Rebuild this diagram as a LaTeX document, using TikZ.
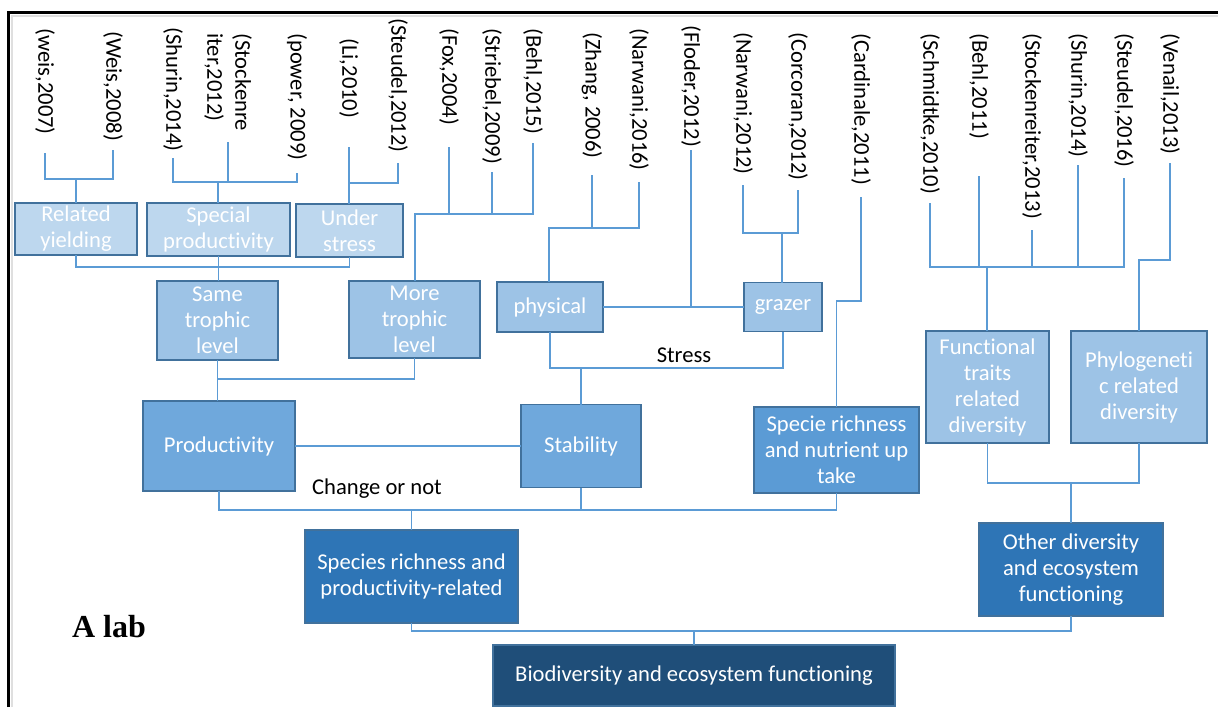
\documentclass[tikz,border=0pt]{standalone}
\usepackage{fontspec}
\setmainfont{Carlito}[RawFeature={-liga}]
\newfontfamily\labfont{Liberation Serif}
\definecolor{lvlA}{HTML}{BDD7EE}
\definecolor{lvlB}{HTML}{9DC3E6}
\definecolor{lvlC}{HTML}{6FA8DC}
\definecolor{lvlD}{HTML}{5B9BD5}
\definecolor{lvlE}{HTML}{2E75B6}
\definecolor{lvlF}{HTML}{1F4E79}
\definecolor{edge}{HTML}{41719C}
\definecolor{wire}{HTML}{5B9BD5}
\begin{document}
\begin{tikzpicture}[x=0.5pt,y=-0.5pt,
  every node/.style={font=\fontsize{11.3}{13}\selectfont},
  block/.style={draw=edge,line width=0.6pt,fill=#1,text=white,align=center,inner sep=0pt,outer sep=0pt},
  boxsize/.style 2 args={minimum width=#1*0.5pt,minimum height=#2*0.5pt},
  cite/.style={rotate=-90,anchor=west,inner sep=0pt,align=left,font=\fontsize{11.3}{14}\selectfont},
  link/.style={draw=wire,line width=0.75pt}]

\useasboundingbox (0,0) rectangle (1218,707);
% frame
\draw[gray!25,line width=1pt] (11.5,707) -- (11.5,15.5) -- (1218,15.5);
\draw[black,line width=1.5pt] (8,707) -- (8,12) -- (1218,12);

% references
\node[cite] (weis07) at (45,28) {(weis,2007)};
\node[cite] (weis08) at (113,31) {(Weis,2008)};
\node[cite] (shu14) at (173,27) {(Shurin,2014)};
\node[cite] (sto12) at (228,33) {(Stockenre\\iter,2012)};
\node[cite] (pow09) at (297,33) {(power, 2009)};
\node[cite] (li10) at (349,38) {(Li,2010)};
\node[cite] (ste12) at (398,18) {(Steudel,2012)};
\node[cite] (fox04) at (449,28) {(Fox,2004)};
\node[cite] (str09) at (492,28) {(Striebel,2009)};
\node[cite] (beh15) at (533,28) {(Behl,2015)};
\node[cite] (zha06) at (592,32) {(Zhang, 2006)};
\node[cite] (nar16) at (639,28) {(Narwani,2016)};
\node[cite] (flo12) at (691,25) {(Floder,2012)};
\node[cite] (nar12) at (743,32) {(Narwani,2012)};
\node[cite] (cor12) at (798,32) {(Corcoran,2012)};
\node[cite] (car11) at (861,33) {(Cardinale,2011)};
\node[cite] (sch10) at (930,33) {(Schmidtke,2010)};
\node[cite] (beh11) at (979,33) {(Behl,2011)};
\node[cite] (sto13) at (1032,33) {(Stockenreiter,2013)};
\node[cite] (shu14b) at (1078,33) {(Shurin,2014)};
\node[cite] (ste16) at (1124,33) {(Steudel,2016)};
\node[cite] (ven13) at (1170,33) {(Venail,2013)};

% boxes
\node[block=lvlA,boxsize={122}{52}] (rel) at (76,229) {Related\\yielding};
\node[block=lvlA,boxsize={143}{53}] (spe) at (218.5,229.5) {Special\\productivity};
\node[block=lvlA,boxsize={107}{53}] (und) at (349.5,230.5) {Under\\stress};
\node[block=lvlB,boxsize={121}{79}] (same) at (217.5,320.5) {Same\\trophic\\level};
\node[block=lvlB,boxsize={131}{77}] (more) at (414.5,319.5) {More\\trophic\\level};
\node[block=lvlB,boxsize={106}{50}] (phys) at (550,307) {physical};
\node[block=lvlB,boxsize={78}{49}] (graz) at (783,307) {grazer};
\node[block=lvlB,boxsize={123}{112}] (func) at (987.5,387) {Functional\\traits\\related\\diversity};
\node[block=lvlB,boxsize={136}{112}] (phyl) at (1139,387) {Phylogeneti\\c related\\diversity};
\node[block=lvlC,boxsize={152}{90}] (prod) at (219,446) {Productivity};
\node[block=lvlC,boxsize={120}{83}] (stab) at (581,446) {Stability};
\node[block=lvlD,boxsize={165}{86}] (spr) at (836.5,450) {Specie richness\\and nutrient up\\take};
\node[block=lvlE,boxsize={213}{93}] (srp) at (411.5,576.5) {Species richness and\\productivity-related};
\node[block=lvlE,boxsize={184}{93}] (oth) at (1071,569.5) {Other diversity\\and ecosystem\\functioning};
\node[block=lvlF,boxsize={402}{61}] (bio) at (694,675.5) {Biodiversity and ecosystem functioning};

\node (chg) at (377,489) {Change or not};
\node (stresslbl) at (684,355) {Stress};
\node[font=\labfont\bfseries\fontsize{16}{18}\selectfont] (lab) at (109,627) {A lab};

% references to first boxes
\coordinate (jrel) at (76,179);
\draw[link] (weis07 |- 0,153) |- (jrel) -| (weis08 |- 0,150);
\draw[link] (jrel) -- (jrel |- rel.north);

\coordinate (jspe) at (218,182);
\draw[link] (shu14 |- 0,158) |- (jspe) -| (pow09 |- 0,173);
\draw[link] (sto12 |- 0,142) -- (sto12 |- jspe);
\draw[link] (jspe) -- (jspe |- spe.north);

\coordinate (jund) at (349,183);
\draw[link] (li10 |- 0,147) |- (jund) -| (ste12 |- 0,163);
\draw[link] (jund) -- (jund |- und.north);

\coordinate (jmore) at (415,214);
\draw[link] (fox04 |- 0,147) -- (fox04 |- jmore);
\draw[link] (str09 |- 0,172) -- (str09 |- jmore);
\draw[link] (beh15 |- 0,143) |- (jmore) -- (jmore |- more.north);

\coordinate (jphys) at (549,228);
\draw[link] (zha06 |- 0,175) -- (zha06 |- jphys);
\draw[link] (nar16 |- 0,182) |- (jphys) -- (jphys |- phys.north);

\draw[link] (phys.east) -- (phys.east -| graz.west);
\draw[link] (flo12 |- 0,150) -- (flo12 |- phys.east);

\coordinate (jgraz) at (782,233);
\draw[link] (nar12 |- 0,185) |- (jgraz) -| (cor12 |- 0,190);
\draw[link] (jgraz) -- (jgraz |- graz.north);

\draw[link] (car11 |- 0,197) |- (spr.north |- 0,301) -- (spr.north);

\coordinate (jfunc) at (987,267);
\draw[link] (sch10 |- 0,203) |- (jfunc) -| (ste16 |- 0,178);
\draw[link] (beh11 |- 0,176) -- (beh11 |- jfunc);
\draw[link] (sto13 |- 0,230) -- (sto13 |- jfunc);
\draw[link] (shu14b |- 0,165) -- (shu14b |- jfunc);
\draw[link] (jfunc) -- (jfunc |- func.north);

\draw[link] (ven13 |- 0,163) |- (phyl.north |- 0,260) -- (phyl.north);

% boxes to boxes
\draw[link] (rel.south) |- (und.south |- 0,267) -- (und.south);
\draw[link] (spe.south) -- (spe.south |- same.north);

\draw[link] (same.south) |- (more.south |- 0,379) -- (more.south);
\draw[link] (same.south) -- (same.south |- prod.north);

\draw[link] (phys.south) |- (graz.south |- 0,368) -- (graz.south);
\draw[link] (stab.north |- 0,368) -- (stab.north);

\draw[link] (prod.east) -- (stab.west);

\draw[link] (prod.south) |- (spr.south |- 0,510) -- (spr.south);
\draw[link] (stab.south) -- (stab.south |- 0,510);
\draw[link] (srp.north |- 0,510) -- (srp.north);

\draw[link] (func.south) |- (phyl.south |- 0,483) -- (phyl.south);
\draw[link] (oth.north |- 0,483) -- (oth.north);

\draw[link] (srp.south) |- (oth.south |- 0,631) -- (oth.south);
\draw[link] (bio.north |- 0,631) -- (bio.north);
\end{tikzpicture}
\end{document}
